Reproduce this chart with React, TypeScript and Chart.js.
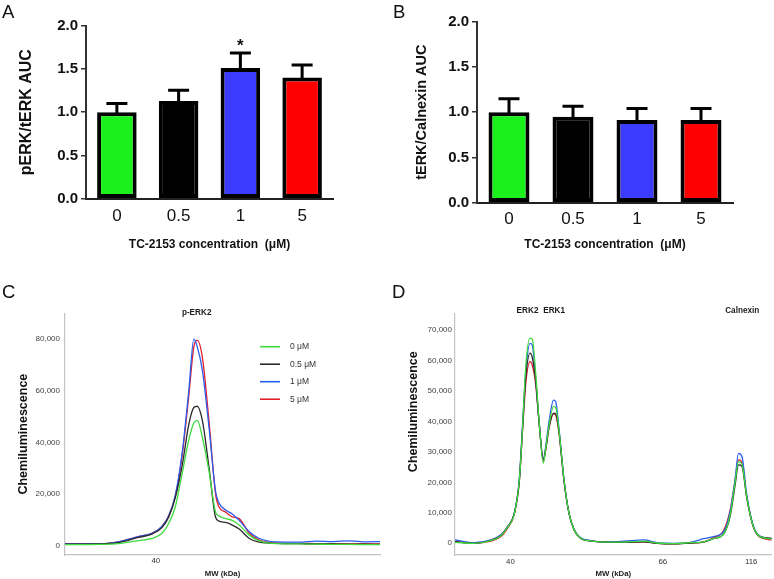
import React, { useEffect, useRef } from 'react';
import { Chart, registerables } from 'chart.js';

Chart.register(...registerables);

// ---------- Bar panels (A, B) ----------
const barCategories = ['0', '0.5', '1', '5'];
const barColors = ['#1cf01c', '#000000', '#3c3cff', '#ff0000'];
const barYTicks = [0, 0.5, 1.0, 1.5, 2.0];
const pErkMeans = [1.0, 1.13, 1.51, 1.40];
const pErkErrors = [0.10, 0.125, 0.175, 0.145];
const pErkMarks = ['', '', '*', ''];
const tErkMeans = [1.0, 0.95, 0.915, 0.915];
const tErkErrors = [0.15, 0.115, 0.125, 0.125];
const tErkMarks = ['', '', '', ''];
const xTitleBars = 'TC-2153 concentration  (\u03bcM)';

// ---------- Electropherogram panels (C, D) ----------
const seriesLabels = ['0 \u03bcM', '0.5 \u03bcM', '1 \u03bcM', '5 \u03bcM'];
const lineColors = ['#3fd83f', '#2a2a2a', '#2b5cf0', '#e2202a'];

// Panel C: p-ERK2 (x = relative capillary position, 0..100)
const pErkPositions = [0, 10.5, 16.9, 23.3, 27.6, 30.8, 32.9, 35.0, 37.2, 39.3, 40.9, 42.0, 43.6, 45.7, 47.8, 48.9, 51.0, 53.1, 55.3, 58.5, 61.7, 67.0, 74.4, 79.8, 85.1, 90.4, 95.7, 100];
const pErk0 = [400, 500, 800, 2000, 2800, 4800, 8600, 15000, 28000, 41000, 47500, 48500, 42000, 29000, 13000, 11500, 10500, 9800, 8000, 4100, 1900, 800, 700, 600, 500, 500, 400, 400];
const pErk05 = [600, 700, 1200, 3200, 4500, 7000, 11000, 18500, 31000, 47000, 53500, 54000, 48500, 30500, 11000, 9500, 9000, 8000, 6500, 2800, 1400, 900, 800, 700, 700, 600, 600, 500];
const pErk1 = [700, 700, 1500, 3500, 4800, 7500, 11500, 19500, 36000, 60000, 80000, 77000, 68000, 46000, 21000, 16500, 13800, 12300, 9800, 5400, 2800, 1500, 1400, 1800, 1600, 1900, 1500, 1600];
const pErk5 = [700, 700, 1500, 3500, 4800, 7500, 11500, 19000, 35000, 58000, 77000, 79500, 73000, 48500, 20000, 15000, 13000, 11200, 10500, 4800, 2200, 1000, 900, 800, 800, 700, 700, 700];
const pErkYTicks = [0, 20000, 40000, 60000, 80000];
const pErkMwTickPositions = [28.8];
const pErkMwTickLabels = ['40'];
const pErkPeakLabels = ['p-ERK2'];
const pErkPeakLabelPositions = [41.8];

// Panel D: ERK1/2 and Calnexin
const totPositions = [0, 6.1, 11.3, 14.5, 16.6, 18.7, 20.3, 21.3, 22.4, 23.7, 24.4, 25.5, 26.5, 27.9, 28.6, 29.7, 31.1, 31.8, 32.8, 34.4, 36.0, 37.6, 39.7, 42.8, 48.1, 53.3, 59.6, 63.8, 69.0, 74.3, 78.5, 81.6, 84.8, 86.9, 88.5, 89.5, 90.6, 92.1, 94.2, 96.3, 100];
const tot0 = [300, 0, 900, 2500, 5300, 9600, 20500, 37500, 59000, 67300, 67000, 55500, 41000, 26300, 30800, 38800, 44900, 44500, 37500, 21000, 9800, 4400, 1600, 800, 400, 400, 700, 100, -100, 200, 500, 1500, 3000, 9500, 20500, 26800, 26000, 15300, 5500, 2200, 1400];
const tot05 = [500, 0, 1000, 2600, 5400, 9700, 20500, 37000, 55000, 62400, 61000, 53000, 40500, 27500, 30500, 38000, 42700, 42500, 37000, 20800, 9800, 4400, 1600, 800, 400, 300, 500, 0, -200, 100, 400, 1500, 3000, 9000, 19500, 25700, 25300, 15000, 5400, 2200, 1600];
const tot1 = [1100, 200, 1100, 2800, 5500, 9800, 21000, 38500, 57000, 65600, 65000, 54000, 40500, 27500, 31500, 40000, 47000, 46500, 38000, 21000, 9800, 4500, 1800, 900, 500, 700, 1100, 200, 0, 300, 1500, 2200, 3800, 10500, 21500, 29500, 28500, 16000, 5800, 2400, 1600];
const tot5 = [500, 0, 700, 2200, 5000, 9500, 20000, 36500, 53000, 59600, 58500, 52000, 40000, 27000, 30500, 38000, 42500, 42000, 36500, 20500, 9800, 4400, 1600, 800, 400, 300, 500, 0, -200, 100, 500, 1800, 4200, 11000, 21000, 27400, 26500, 15500, 5400, 2000, 1100];
const totYTicks = [0, 10000, 20000, 30000, 40000, 50000, 60000, 70000];
const totMwTickPositions = [17.5, 65.6, 93.5];
const totMwTickLabels = ['40', '66', '116'];
const totPeakLabels = ['ERK2', 'ERK1', 'Calnexin'];
const totPeakLabelPositions = [22.9, 31.3, 90.7];

const SANS = '"Liberation Sans", Arial, sans-serif';

function errorBarPlugin(means: number[], errors: number[], marks: string[]) {
  return {
    id: 'errorBars',
    afterDatasetsDraw(chart: any) {
      const { ctx, scales } = chart;
      const meta = chart.getDatasetMeta(0);
      ctx.save();
      ctx.strokeStyle = '#000';
      ctx.lineWidth = 3;
      meta.data.forEach((bar: any, i: number) => {
        const top = scales.y.getPixelForValue(means[i] + errors[i]);
        ctx.beginPath();
        ctx.moveTo(bar.x, bar.y + 2);
        ctx.lineTo(bar.x, top);
        ctx.moveTo(bar.x - 10.5, top);
        ctx.lineTo(bar.x + 10.5, top);
        ctx.stroke();
        if (marks[i]) {
          ctx.fillStyle = '#111';
          ctx.font = 'bold 17px ' + SANS;
          ctx.textAlign = 'center';
          ctx.textBaseline = 'alphabetic';
          ctx.fillText(marks[i], bar.x, top - 2);
        }
      });
      ctx.restore();
    },
  };
}

function peakLabelPlugin(labels: string[], positions: number[], dy: number) {
  return {
    id: 'peakLabels',
    afterDraw(chart: any) {
      const { ctx, scales, chartArea } = chart;
      ctx.save();
      ctx.fillStyle = '#1a1a1a';
      ctx.font = 'bold 8.2px ' + SANS;
      ctx.textAlign = 'center';
      ctx.textBaseline = 'middle';
      labels.forEach((t, i) => {
        ctx.fillText(t, scales.x.getPixelForValue(positions[i]), chartArea.top + dy);
      });
      ctx.restore();
    },
  };
}

function insetLegendPlugin(labels: string[], colors: string[], x0: number, y0: number, dy: number) {
  return {
    id: 'insetLegend',
    afterDraw(chart: any) {
      const { ctx } = chart;
      ctx.save();
      ctx.font = '8.5px ' + SANS;
      ctx.textAlign = 'left';
      ctx.textBaseline = 'middle';
      labels.forEach((t, i) => {
        const y = y0 + i * dy;
        ctx.strokeStyle = colors[i];
        ctx.lineWidth = 1.6;
        ctx.beginPath();
        ctx.moveTo(x0, y);
        ctx.lineTo(x0 + 20, y);
        ctx.stroke();
        ctx.fillStyle = '#333';
        ctx.fillText(t, x0 + 30, y);
      });
      ctx.restore();
    },
  };
}

function rotatedTitlePlugin(text: string, x: number, y: number) {
  return {
    id: 'rotTitle',
    afterDraw(chart: any) {
      const { ctx } = chart;
      ctx.save();
      ctx.translate(x, y);
      ctx.rotate(-Math.PI / 2);
      ctx.fillStyle = '#111';
      ctx.font = 'bold 12.5px ' + SANS;
      ctx.textAlign = 'center';
      ctx.textBaseline = 'middle';
      ctx.fillText(text, 0, 0);
      ctx.restore();
    },
  };
}

interface BarLayout {
  yWidth: number; xHeight: number; padRight: number; padTop: number;
  yTitleSize: number; yTitlePad: number; xTickPad: number;
}

function barConfig(means: number[], errors: number[], marks: string[], yTitle: string, L: BarLayout): any {
  return {
    type: 'bar',
    data: {
      labels: barCategories,
      datasets: [{
        data: means,
        backgroundColor: barColors,
        borderColor: '#000',
        borderWidth: 4,
        borderSkipped: false,
        barPercentage: 0.64,
        categoryPercentage: 1,
      }],
    },
    options: {
      responsive: false,
      animation: false,
      events: [],
      layout: { padding: { left: 0, right: L.padRight, top: L.padTop, bottom: 0 } },
      plugins: { legend: { display: false }, tooltip: { enabled: false } },
      scales: {
        x: {
          grid: { display: false, drawTicks: false },
          border: { display: true, color: '#222', width: 2 },
          ticks: { font: { family: SANS, size: 17 }, color: '#111', padding: L.xTickPad },
          title: {
            display: true, text: xTitleBars, color: '#111',
            font: { family: SANS, size: 12, weight: 'bold' },
            padding: { top: 0, bottom: 17.8 },
          },
          afterFit: (s: any) => { s.height = L.xHeight; },
        },
        y: {
          min: 0, max: 2, bounds: 'data',
          afterBuildTicks: (s: any) => { s.ticks = barYTicks.map((v) => ({ value: v })); },
          ticks: {
            callback: (v: any) => Number(v).toFixed(1),
            font: { family: SANS, size: 15, weight: 'bold' }, color: '#111', padding: 3,
          },
          grid: { drawOnChartArea: false, drawTicks: true, tickLength: 5, color: '#333', lineWidth: 1.5 },
          border: { display: true, color: '#333', width: 2 },
          title: {
            display: true, text: yTitle, color: '#111',
            font: { family: SANS, size: L.yTitleSize, weight: 'bold' },
            padding: { top: L.yTitlePad, bottom: 0 },
          },
          afterFit: (s: any) => { s.width = L.yWidth; },
        },
      },
    },
    plugins: [errorBarPlugin(means, errors, marks)],
  };
}

interface LineLayout {
  yWidth: number; xHeight: number; padRight: number; padTop: number;
  yMin: number; yMax: number; yTickPad: number; xTickPad: number;
  yTitlePad: number; showYTitle: boolean;
}

function lineConfig(positions: number[], series: number[][], yTicks: number[], mwPos: number[], mwLabels: string[], L: LineLayout, extraPlugins: any[]): any {
  return {
    type: 'line',
    data: {
      datasets: series.map((vals, i) => ({
        label: seriesLabels[i],
        data: positions.map((x, j) => ({ x, y: vals[j] })),
        borderColor: lineColors[i],
        borderWidth: 1.3,
        pointRadius: 0,
        fill: false,
        cubicInterpolationMode: 'monotone',
      })),
    },
    options: {
      responsive: false,
      animation: false,
      events: [],
      layout: { padding: { left: 0, right: L.padRight, top: L.padTop, bottom: 0 } },
      plugins: { legend: { display: false }, tooltip: { enabled: false } },
      scales: {
        x: {
          type: 'linear', min: 0, max: 100, bounds: 'data',
          afterBuildTicks: (s: any) => { s.ticks = mwPos.map((v) => ({ value: v })); },
          ticks: {
            autoSkip: false, maxRotation: 0,
            callback: (v: any) => { const k = mwPos.indexOf(Number(v)); return k >= 0 ? mwLabels[k] : ''; },
            font: { family: SANS, size: 7.8 }, color: '#333', padding: L.xTickPad,
          },
          grid: { display: false, drawTicks: false },
          border: { display: true, color: '#c4c4c4', width: 1.2 },
          title: {
            display: true, text: 'MW (kDa)', color: '#222',
            font: { family: SANS, size: 7.8, weight: 'bold' },
            padding: { top: 0, bottom: 0.5 },
          },
          afterFit: (s: any) => { s.height = L.xHeight; },
        },
        y: {
          min: L.yMin, max: L.yMax, bounds: 'data',
          afterBuildTicks: (s: any) => { s.ticks = yTicks.map((v) => ({ value: v })); },
          ticks: {
            callback: (v: any) => Number(v).toLocaleString('en-US'),
            font: { family: SANS, size: 8 }, color: '#444', padding: L.yTickPad,
          },
          grid: { display: false, drawTicks: false },
          border: { display: true, color: '#c4c4c4', width: 1.2 },
          title: {
            display: L.showYTitle, text: 'Chemiluminescence', color: '#111',
            font: { family: SANS, size: 12.5, weight: 'bold' },
            padding: { top: L.yTitlePad, bottom: 0 },
          },
          afterFit: (s: any) => { s.width = L.yWidth; },
        },
      },
    },
    plugins: extraPlugins,
  };
}

function ChartCanvas({ left, top, width, height, makeConfig }: { left: number; top: number; width: number; height: number; makeConfig: () => any }) {
  const ref = useRef<HTMLCanvasElement | null>(null);
  useEffect(() => {
    if (!ref.current) return;
    const chart = new Chart(ref.current, makeConfig());
    return () => chart.destroy();
  }, []);
  return (
    <canvas
      ref={ref}
      width={width}
      height={height}
      style={{ position: 'absolute', left, top, width, height }}
    />
  );
}

const letterStyle = (left: number, top: number): React.CSSProperties => ({
  position: 'absolute', left, top, fontFamily: SANS, fontSize: 18.5, lineHeight: '18px', color: '#111',
});

export default function App() {
  return (
    <div style={{ position: 'fixed', left: 0, top: 0, width: 774, height: 579, background: '#fff', overflow: 'hidden' }}>
      <ChartCanvas
        left={0} top={0} width={390} height={270}
        makeConfig={() => barConfig(pErkMeans, pErkErrors, pErkMarks, 'pERK/tERK AUC', {
          yWidth: 86, xHeight: 71.3, padRight: 57, padTop: 25.7, yTitleSize: 16, yTitlePad: 17.1, xTickPad: 7.5,
        })}
      />
      <ChartCanvas
        left={390} top={0} width={384} height={270}
        makeConfig={() => barConfig(tErkMeans, tErkErrors, tErkMarks, 'tERK/Calnexin AUC', {
          yWidth: 87, xHeight: 67.3, padRight: 41, padTop: 21.7, yTitleSize: 14.5, yTitlePad: 23.6, xTickPad: 6,
        })}
      />
      <ChartCanvas
        left={0} top={280} width={390} height={299}
        makeConfig={() => lineConfig(pErkPositions, [pErk0, pErk05, pErk1, pErk5], pErkYTicks, pErkMwTickPositions, pErkMwTickLabels, {
          yWidth: 65, xHeight: 24, padRight: 10, padTop: 33.3, yMin: -3600, yMax: 90000, yTickPad: 5, xTickPad: 1.5,
          yTitlePad: 16, showYTitle: true,
        }, [
          peakLabelPlugin(pErkPeakLabels, pErkPeakLabelPositions, -1),
          insetLegendPlugin(seriesLabels, lineColors, 260, 66.7, 17.5),
        ])}
      />
      <ChartCanvas
        left={390} top={280} width={384} height={299}
        makeConfig={() => lineConfig(totPositions, [tot0, tot05, tot1, tot5], totYTicks, totMwTickPositions, totMwTickLabels, {
          yWidth: 65, xHeight: 24, padRight: 2.3, padTop: 33.3, yMin: -3840, yMax: 75460, yTickPad: 3, xTickPad: 2,
          yTitlePad: 16, showYTitle: false,
        }, [
          peakLabelPlugin(totPeakLabels, totPeakLabelPositions, -3),
          rotatedTitlePlugin('Chemiluminescence', 23.3, 131.7),
        ])}
      />
      <div style={letterStyle(2, 2.5)}>A</div>
      <div style={letterStyle(393, 2.5)}>B</div>
      <div style={letterStyle(2, 282.5)}>C</div>
      <div style={letterStyle(392, 282.5)}>D</div>
    </div>
  );
}
